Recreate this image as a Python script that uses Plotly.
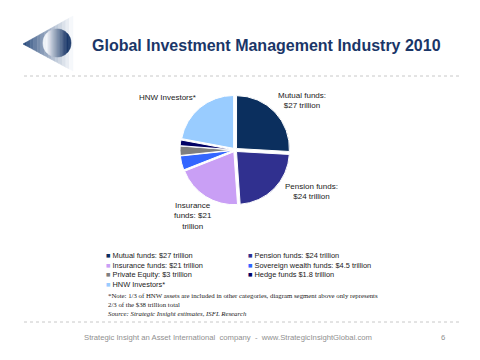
import numpy as np
import plotly.graph_objects as go

# ---- data ----
categories = ["Mutual funds", "Pension funds", "Insurance funds", "Sovereign wealth funds",
              "Private Equity", "Hedge funds", "HNW Investors*"]
values_trn = [27, 24, 21, 4.5, 3, 1.8, 23]
legend_labels = ["Mutual funds: $27 trillion", "Pension funds: $24 trillion",
                 "Insurance funds: $21 trillion", "Sovereign wealth funds: $4.5 trillion",
                 "Private Equity: $3 trillion", "Hedge funds $1.8 trillion",
                 "HNW Investors*"]
slice_colors = ["#0b2f5e", "#30308f", "#c99ff5", "#3366ff", "#7f7f7f", "#000066", "#99ccff"]
title_text = "Global Investment Management Industry 2010"
note_lines = ["*Note: 1/3 of HNW assets are included in other categories, diagram segment above only represents",
              "2/3 of the $38 trillion total"]
source_text = "Source: Strategic Insight estimates, ISFL Research"
footer_text = "Strategic Insight an Asset International  company  -  www.StrategicInsightGlobal.com"
page_no = "6"

W, H = 480, 360


def px(x):
    return x / W


def py(y):
    return 1 - y / H


fig = go.Figure()
fig.add_trace(go.Pie(
    labels=categories, values=values_trn, sort=False, direction="clockwise", rotation=0,
    marker=dict(colors=slice_colors, line=dict(color="white", width=1)),
    pull=[0.04] * len(values_trn), textinfo="none", showlegend=False,
    domain=dict(x=[px(180), px(290)], y=[py(205), py(95)]),
    hovertemplate="%{label}: $%{value} trillion<extra></extra>",
))

ann = []
# title
ann.append(dict(text="<b>" + title_text + "</b>", x=px(90), y=py(45), xanchor="left", yanchor="middle",
                font=dict(family="Liberation Sans, Arial", size=16, color="#1a3668"), showarrow=False))
# slice labels
lab_font = dict(family="Liberation Sans, Arial", size=8, color="#1a1a1a")
ann.append(dict(text="HNW Investors*", x=px(198), y=py(98), xanchor="right", yanchor="middle",
                font=lab_font, showarrow=False))
ann.append(dict(text="Mutual funds:<br>$27 trillion", x=px(302), y=py(100), xanchor="center", yanchor="middle",
                font=lab_font, showarrow=False))
ann.append(dict(text="Pension funds:<br>$24 trillion", x=px(311), y=py(191), xanchor="center", yanchor="middle",
                font=lab_font, showarrow=False))
ann.append(dict(text="Insurance<br>funds: $21<br>trillion", x=px(193), y=py(216), xanchor="center", yanchor="middle",
                font=lab_font, showarrow=False))
# legend (two columns, one text block per column)
for colidx, cx in enumerate((105, 247)):
    rows = [f"<span style='color:{c}'>■</span> {l}"
            for i, (l, c) in enumerate(zip(legend_labels, slice_colors)) if i % 2 == colidx]
    ann.append(dict(text="<br>".join(rows), x=px(cx), y=py(250), xanchor="left", yanchor="top",
                    align="left", showarrow=False, borderpad=0,
                    font=dict(family="Liberation Sans, Arial", size=7.4, color="#1a1a1a")))
# notes
ann.append(dict(text="<br>".join(note_lines) + "<br><i>" + source_text + "</i>", x=px(107), y=py(290.5),
                xanchor="left", yanchor="top", align="left", showarrow=False, borderpad=0,
                font=dict(family="Liberation Serif, Times New Roman", size=6.8, color="#1a1a1a")))
# footer
ann.append(dict(text=footer_text, x=px(82), y=py(337), xanchor="left", yanchor="middle", showarrow=False,
                font=dict(family="Liberation Sans, Arial", size=7.7, color="#909090")))
ann.append(dict(text=page_no, x=px(443), y=py(337), xanchor="center", yanchor="middle", showarrow=False,
                font=dict(family="Liberation Sans, Arial", size=7.7, color="#909090")))

shapes = []
# dotted rules
for yy in (76, 322):
    shapes.append(dict(type="line", xref="paper", yref="paper", x0=px(24), x1=px(462), y0=py(yy), y1=py(yy),
                       line=dict(color="#c8c8c8", width=1, dash="dot")))


def mix(c1, c2, t):
    return "rgb(%d,%d,%d)" % tuple(round(a + (b - a) * t) for a, b in zip(c1, c2))


# logo: cone
tip = (23, 44)
xr = 73
n = 14
for k in range(n):
    x0 = tip[0] + (xr - tip[0]) * k / n
    x1 = tip[0] + (xr - tip[0]) * (k + 1) / n
    def yt(x): return tip[1] - (x - tip[0]) * 28 / 50
    def yb(x): return tip[1] + (x - tip[0]) * 27 / 50
    col = mix((40, 74, 124), (246, 248, 251), (k / (n - 1)) ** 0.8)
    path = f"M{px(x0)},{py(yt(x0))} L{px(x1)},{py(yt(x1))} L{px(x1)},{py(yb(x1))} L{px(x0)},{py(yb(x0))} Z"
    shapes.append(dict(type="path", xref="paper", yref="paper", path=path, fillcolor=col,
                       line=dict(width=0.6, color=col), layer="above"))
# logo: sphere
cxl, cyl, r = 57, 43, 14
m = 20
for k in range(m):
    x0 = cxl - r + 2 * r * k / m
    x1 = cxl - r + 2 * r * (k + 1) / m
    xs = np.linspace(x0, x1, 6)
    top = [cyl - np.sqrt(max(r * r - (x - cxl) ** 2, 0)) for x in xs]
    bot = [cyl + np.sqrt(max(r * r - (x - cxl) ** 2, 0)) for x in xs]
    pts = [(x, t) for x, t in zip(xs, top)] + [(x, b) for x, b in zip(xs[::-1], bot[::-1])]
    path = "M" + " L".join(f"{px(a)},{py(b)}" for a, b in pts) + " Z"
    t = k / (m - 1)
    col = mix((244, 246, 250), (28, 58, 106), min(1, max(0, (t - 0.15) / 0.75)) ** 0.9)
    shapes.append(dict(type="path", xref="paper", yref="paper", path=path, fillcolor=col,
                       line=dict(width=0.6, color=col), layer="above"))

fig.update_layout(
    width=W, height=H, margin=dict(l=0, r=0, t=0, b=0),
    paper_bgcolor="white", plot_bgcolor="white",
    annotations=ann, shapes=shapes, showlegend=False,
)
fig.write_html("out.html", config={"displayModeBar": False},
               post_script="document.body.style.margin='0';document.body.style.overflow='hidden';")
